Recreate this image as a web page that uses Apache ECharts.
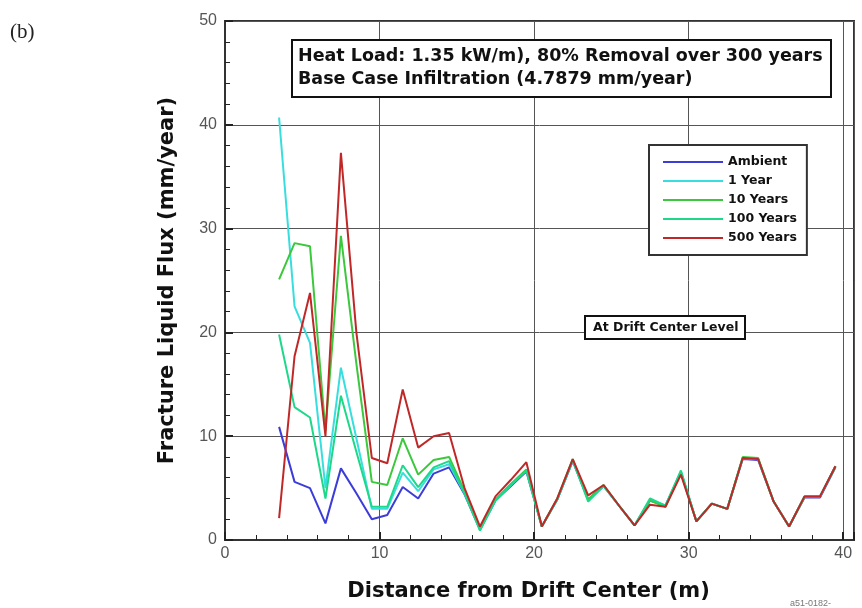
<!DOCTYPE html>
<html>
<head>
<meta charset="utf-8">
<script src="https://cdn.jsdelivr.net/npm/echarts@6/dist/echarts.min.js"></script>
<style>html,body{margin:0;padding:0;background:#fff}#c{width:862px;height:608px}</style>
</head>
<body>
<div id="c"></div>
<script>
// Distance from drift center (m)
var distance = [3.5,4.5,5.5,6.5,7.5,8.5,9.5,10.5,11.5,12.5,13.5,14.5,15.5,16.5,17.5,18.5,19.5,20.5,21.5,22.5,23.5,24.5,25.5,26.5,27.5,28.5,29.5,30.5,31.5,32.5,33.5,34.5,35.5,36.5,37.5,38.5,39.5];
var ambient = [10.9,5.6,5.0,1.6,6.9,4.5,2.0,2.4,5.1,4.0,6.4,7.0,4.4,1.0,3.8,5.2,6.6,1.3,3.9,7.6,3.9,5.2,3.3,1.4,3.8,3.3,6.5,1.8,3.5,3.0,7.8,7.7,3.7,1.3,4.1,4.1,7.0];
var year1 = [40.7,22.5,19.0,5.0,16.6,9.8,3.0,3.0,6.5,4.7,6.8,7.3,4.5,1.0,3.8,5.3,6.7,1.3,3.9,7.7,3.8,5.2,3.3,1.4,3.9,3.3,6.6,1.8,3.5,3.0,7.9,7.8,3.7,1.3,4.2,4.2,7.1];
var year10 = [25.1,28.6,28.3,10.5,29.3,17.0,5.6,5.3,9.8,6.3,7.7,8.0,4.7,1.1,3.9,5.4,6.8,1.3,4.0,7.8,3.9,5.3,3.3,1.4,3.8,3.2,6.5,1.8,3.5,3.0,8.0,7.9,3.7,1.3,4.2,4.2,7.1];
var year100 = [19.8,12.8,11.8,4.0,13.9,8.5,3.2,3.2,7.2,5.1,7.0,7.6,4.5,0.9,3.8,5.3,6.7,1.3,3.9,7.7,3.7,5.2,3.3,1.4,4.0,3.3,6.7,1.8,3.5,3.0,7.9,7.8,3.7,1.3,4.2,4.2,7.1];
var year500 = [2.1,17.7,23.8,10.0,37.3,20.0,7.9,7.4,14.5,8.9,10.0,10.3,5.0,1.3,4.2,5.8,7.5,1.3,4.0,7.8,4.3,5.3,3.3,1.4,3.4,3.2,6.3,1.8,3.5,3.0,7.9,7.8,3.7,1.3,4.2,4.2,7.1];

var seriesNames = ['Ambient','1 Year','10 Years','100 Years','500 Years'];
var seriesColors = ['#3c3cd8','#38dede','#3cc83c','#1ed88a','#c02828'];
var seriesValues = [ambient, year1, year10, year100, year500];

function pairs(ys){ return distance.map(function(x,i){ return [x, ys[i]]; }); }

var chart = echarts.init(document.getElementById('c'), null, {renderer:'canvas'});
var bold = 'DejaVu Sans';
chart.setOption({
  animation: false,
  backgroundColor: '#fff',
  title: [
    {
      text: 'Heat Load: 1.35 kW/m), 80% Removal over 300 years\nBase Case Infiltration (4.7879 mm/year)',
      left: 292, top: 40,
      padding: [5, 9, 6, 6],
      borderColor: '#111', borderWidth: 2, backgroundColor: '#fff',
      textStyle: {fontFamily: bold, fontWeight: 'bold', fontSize: 17.5, lineHeight: 23, color: '#111'}
    },
    {
      text: 'At Drift Center Level',
      left: 585, top: 316,
      padding: [5, 7, 5, 8],
      borderColor: '#111', borderWidth: 2, backgroundColor: '#fff',
      textStyle: {fontFamily: bold, fontWeight: 'bold', fontSize: 12.5, color: '#111'}
    }
  ],
  legend: {
    orient: 'vertical',
    left: 649, top: 145,
    padding: [10, 10, 10, 14],
    icon: 'rect',
    itemWidth: 60, itemHeight: 2, itemGap: 5,
    borderColor: '#333', borderWidth: 2, backgroundColor: '#fff',
    data: seriesNames,
    textStyle: {fontFamily: bold, fontWeight: 'bold', fontSize: 12.5, lineHeight: 14, color: '#111'}
  },
  grid: {left: 225, right: 8, top: 21, bottom: 68, show: true, borderColor: '#333', borderWidth: 2},
  xAxis: {
    type: 'value', min: 0, max: 40.7, interval: 10,
    name: 'Distance from Drift Center (m)', nameLocation: 'middle', nameGap: 41,
    nameTextStyle: {fontFamily: bold, fontWeight: 'bold', fontSize: 21, color: '#111', padding: [0, 22, 0, 0]},
    axisLine: {show: true, lineStyle: {color: '#333', width: 2}},
    axisTick: {show: true, inside: true, length: 8, lineStyle: {color: '#222', width: 2}},
    minorTick: {show: true, splitNumber: 5, length: 5, lineStyle: {color: '#222', width: 1}},
    axisLabel: {showMaxLabel: false, margin: 6, fontFamily: 'Liberation Sans', fontSize: 16, color: '#555'},
    splitLine: {show: true, lineStyle: {color: '#555', width: 1}}
  },
  yAxis: {
    type: 'value', min: 0, max: 50, interval: 10,
    name: 'Fracture Liquid Flux (mm/year)', nameLocation: 'middle', nameGap: 47, nameRotate: 90,
    nameTextStyle: {fontFamily: bold, fontWeight: 'bold', fontSize: 21, color: '#111'},
    axisLine: {show: true, lineStyle: {color: '#333', width: 2}},
    axisTick: {show: true, inside: true, length: 8, lineStyle: {color: '#222', width: 2}},
    minorTick: {show: true, splitNumber: 5, length: 5, lineStyle: {color: '#222', width: 1}},
    axisLabel: {margin: 8, fontFamily: 'Liberation Sans', fontSize: 16, color: '#555'},
    splitLine: {show: true, lineStyle: {color: '#555', width: 1}}
  },
  series: seriesNames.map(function(n, k){
    return {
      name: n, type: 'line', symbol: 'none', showSymbol: false,
      data: pairs(seriesValues[k]),
      lineStyle: {color: seriesColors[k], width: 2},
      itemStyle: {color: seriesColors[k]},
      z: 2 + k
    };
  }),
  graphic: [
    {type: 'text', left: 10, top: 22, style: {text: '(b)', font: '21px "Liberation Serif"', fill: '#222'}},
    {type: 'text', left: 790, top: 599, style: {text: 'a51-0182-', font: '9px "Liberation Sans"', fill: '#777'}}
  ]
});
</script>
</body>
</html>
